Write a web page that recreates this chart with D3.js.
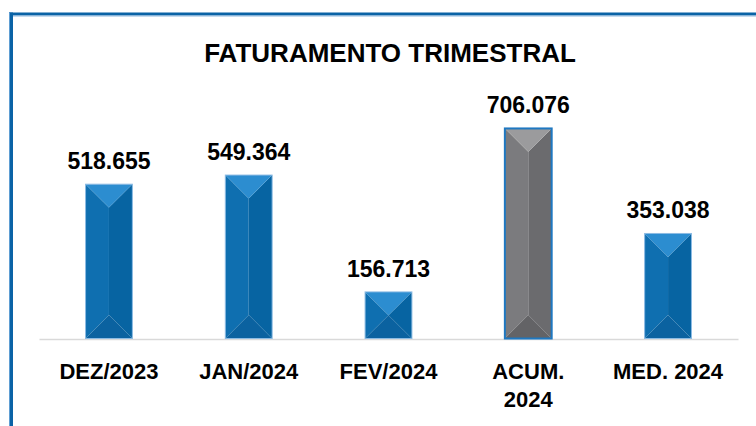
<!DOCTYPE html>
<html>
<head>
<meta charset="utf-8">
<script src="https://cdn.jsdelivr.net/npm/d3@7"></script>
<style>
  body { margin: 0; background: #fff; }
  svg { display: block; font-family: "Liberation Sans", Arial, sans-serif; }
</style>
</head>
<body>
<script>
// chart data
var categories = ["DEZ/2023", "JAN/2024", "FEV/2024", "ACUM. 2024", "MED. 2024"];
var tickLines = [["DEZ/2023"], ["JAN/2024"], ["FEV/2024"], ["ACUM.", "2024"], ["MED. 2024"]];
var values = [518.655, 549.364, 156.713, 706.076, 353.038];
var valueLabels = ["518.655", "549.364", "156.713", "706.076", "353.038"];
var highlight = ["ACUM. 2024"];

var width = 756, height = 426;

var svg = d3.select("body").append("svg").attr("width", width).attr("height", height);

// frame (top + left only)
svg.append("rect").attr("x", 9).attr("y", 12.5).attr("width", width - 9).attr("height", 3).attr("fill", "#0b63a6");
svg.append("rect").attr("x", 13).attr("y", 15.5).attr("width", width - 13).attr("height", 1).attr("fill", "#8db7dd");
svg.append("rect").attr("x", 9).attr("y", 12.5).attr("width", 4).attr("height", height).attr("fill", "#0b63a6");
svg.append("rect").attr("x", 9).attr("y", 12.5).attr("width", 1).attr("height", height).attr("fill", "#5f9ed3");

svg.append("text")
    .attr("x", 390).attr("y", 62)
    .attr("text-anchor", "middle")
    .style("font-size", "26px").style("font-weight", "bold").style("fill", "#000")
    .text("FATURAMENTO TRIMESTRAL");

var x = d3.scaleBand().domain(categories).range([39, 738]).paddingInner(0.665).paddingOuter(0.333);
var y = d3.scaleLinear().domain([0, 800]).range([338.5, 338.5 - 800 * 0.2975]);

// x axis
var axis = svg.append("g")
    .attr("transform", "translate(0," + 339 + ")")
    .call(d3.axisBottom(x).tickSize(0).tickSizeOuter(0));
axis.select(".domain").attr("stroke", "#d9d9d9").attr("stroke-width", 1.5);
axis.selectAll(".tick text").remove();
axis.selectAll(".tick").each(function(d, i) {
    var t = d3.select(this).append("text")
        .attr("text-anchor", "middle")
        .attr("fill", "#000")
        .style("font-size", "22px").style("font-weight", "bold")
        .style("font-family", "'Liberation Sans', Arial, sans-serif");
    tickLines[i].forEach(function(line, j) {
        t.append("tspan").attr("x", 0).attr("y", 40 + j * 28).text(line);
    });
});

// bevelled bars
var blue = { top: "#2c8dd0", left: "#0f6fb0", right: "#0764a2", bottom: "#0b62a0", edge: "#8cbbe3" };
var grey = { top: "#9b9b9d", left: "#7b7b7e", right: "#6b6b6e", bottom: "#636366", edge: "#1f78c1" };

var bars = svg.selectAll("g.bar").data(categories).enter().append("g").attr("class", "bar");

bars.each(function(c, i) {
    var g = d3.select(this);
    var col = highlight.indexOf(c) >= 0 ? grey : blue;
    var x0 = x(c), w = x.bandwidth(), x1 = x0 + w, xm = x0 + w / 2;
    var y0 = y(values[i]), y1 = y(0);
    var b = Math.min(w / 2, (y1 - y0) / 2);
    var ya = y0 + b, yb = y1 - b;
    g.append("polygon").attr("points", [[x0, y0], [xm, ya], [xm, yb], [x0, y1]].join(" ")).attr("fill", col.left);
    g.append("polygon").attr("points", [[x1, y0], [xm, ya], [xm, yb], [x1, y1]].join(" ")).attr("fill", col.right);
    g.append("polygon").attr("points", [[x0, y0], [x1, y0], [xm, ya]].join(" ")).attr("fill", col.top);
    g.append("polygon").attr("points", [[x0, y1], [x1, y1], [xm, yb]].join(" ")).attr("fill", col.bottom);
    g.append("rect").attr("x", x0).attr("y", y0).attr("width", w).attr("height", y1 - y0)
        .attr("fill", "none").attr("stroke", col.edge).attr("stroke-width", col === grey ? 2 : 1);
});

svg.selectAll("text.val").data(values).enter().append("text")
    .attr("class", "val")
    .attr("x", function(d, i) { return x(categories[i]) + x.bandwidth() / 2; })
    .attr("y", function(d) { return y(d) - 15; })
    .attr("text-anchor", "middle")
    .style("font-size", "23px").style("font-weight", "bold").style("fill", "#000")
    .text(function(d, i) { return valueLabels[i]; });
</script>
</body>
</html>
